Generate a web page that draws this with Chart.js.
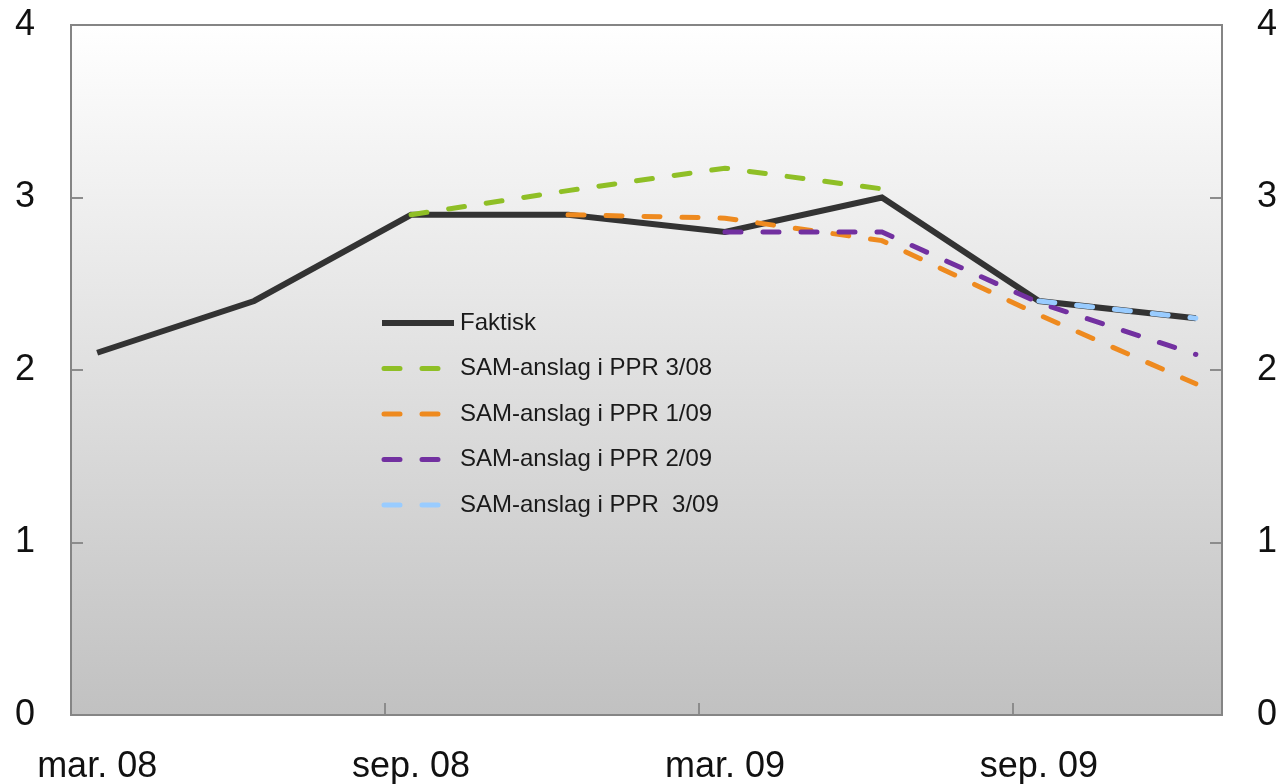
<!DOCTYPE html>
<html>
<head>
<meta charset="utf-8">
<script src="https://cdn.jsdelivr.net/npm/chart.js@4.4.0/dist/chart.umd.min.js"></script>
<style>
  body { margin: 0; background: #fff; }
  #wrap { width: 1285px; height: 784px; }
</style>
</head>
<body>
<div id="wrap"><canvas id="myChart"></canvas></div>
<script>
// monthly category axis, values only at quarter ends
const months = ['mar. 08', 'apr. 08', 'mai. 08', 'jun. 08', 'jul. 08', 'aug. 08', 'sep. 08', 'okt. 08', 'nov. 08', 'des. 08',
    'jan. 09', 'feb. 09', 'mar. 09', 'apr. 09', 'mai. 09', 'jun. 09', 'jul. 09', 'aug. 09', 'sep. 09', 'okt. 09', 'nov. 09', 'des. 09'];
const quarters = ['mar. 08', 'jun. 08', 'sep. 08', 'des. 08', 'mar. 09', 'jun. 09', 'sep. 09', 'des. 09'];
const shownLabels = ['mar. 08', 'sep. 08', 'mar. 09', 'sep. 09'];
const yTicks = [0, 1, 2, 3, 4];

const faktisk = [2.1, 2.4, 2.9, 2.9, 2.8, 3.0, 2.4, 2.3];
const ppr308 = [null, null, 2.9, 3.04, 3.17, 3.05, null, null];
const ppr109 = [null, null, null, 2.9, 2.88, 2.75, 2.32, 1.92];
const ppr209 = [null, null, null, null, 2.8, 2.8, 2.39, 2.09];
const ppr309 = [null, null, null, null, null, null, 2.4, 2.3];

function toPoints(vals) {
    return quarters.map((q, i) => ({ x: q, y: vals[i] })).filter(p => p.y !== null);
}

const FONT = 'Liberation Sans, Arial, sans-serif';
const dash = [16, 22];

const plotBg = {
    id: 'plotBg',
    beforeDraw(chart) {
        const a = chart.chartArea, c = chart.ctx;
        const g = c.createLinearGradient(0, a.top, 0, a.bottom);
        g.addColorStop(0, '#ffffff');
        g.addColorStop(1, '#c1c1c1');
        c.save();
        c.fillStyle = g;
        c.fillRect(a.left, a.top, a.width, a.height);
        c.restore();
    },
    beforeDatasetsDraw(chart) {
        const a = chart.chartArea, c = chart.ctx;
        c.save();
        c.strokeStyle = '#858585';
        c.lineWidth = 2;
        c.strokeRect(a.left, a.top, a.width, a.height);
        c.restore();
    }
};

const boxLegend = {
    id: 'boxLegend',
    afterDatasetsDraw(chart) {
        const a = chart.chartArea, c = chart.ctx;
        const x0 = a.left + 311, y0 = a.top + 298, gap = 45.5;
        c.save();
        c.font = '24px ' + FONT;
        c.textBaseline = 'middle';
        chart.data.datasets.forEach((ds, i) => {
            const y = y0 + i * gap;
            c.beginPath();
            c.strokeStyle = ds.borderColor;
            c.lineWidth = ds.borderWidth;
            if (ds.borderDash) {
                c.lineCap = 'round';
                c.setLineDash(ds.borderDash);
                c.moveTo(x0 + 2, y);
                c.lineTo(x0 + 68, y);
            } else {
                c.lineCap = 'butt';
                c.setLineDash([]);
                c.moveTo(x0, y);
                c.lineTo(x0 + 72, y);
            }
            c.stroke();
            c.setLineDash([]);
            c.fillStyle = '#1a1a1a';
            c.fillText(ds.label, x0 + 78, y);
        });
        c.restore();
    }
};

function noPad(s) {
    s.paddingTop = 0;
    s.paddingBottom = 0;
    s.paddingLeft = 0;
    s.paddingRight = 0;
}

const yAxis = (pos) => ({
    type: 'linear',
    position: pos,
    min: 0,
    max: 4,
    afterBuildTicks: s => { s.ticks = yTicks.map(v => ({ value: v })); },
    afterFit: s => { s.width = pos === 'left' ? 71 : 63; noPad(s); },
    border: { display: false },
    grid: { drawOnChartArea: false, tickLength: -12, tickColor: '#8c8c8c', lineWidth: 2 },
    ticks: { padding: pos === 'left' ? 48 : 47, color: '#111', font: { family: FONT, size: 36 } }
});

var myChart = new Chart(document.getElementById('myChart'), {
    type: 'line',
    data: {
        datasets: [
            { label: 'Faktisk', data: toPoints(faktisk), borderColor: '#333333', borderWidth: 6, order: 5 },
            { label: 'SAM-anslag i PPR 3/08', data: toPoints(ppr308), borderColor: '#8fbf26', borderWidth: 5, borderDash: dash, borderCapStyle: 'round', order: 4 },
            { label: 'SAM-anslag i PPR 1/09', data: toPoints(ppr109), borderColor: '#ee8a1f', borderWidth: 5, borderDash: dash, borderCapStyle: 'round', order: 3 },
            { label: 'SAM-anslag i PPR 2/09', data: toPoints(ppr209), borderColor: '#7230a0', borderWidth: 5, borderDash: dash, borderCapStyle: 'round', order: 2 },
            { label: 'SAM-anslag i PPR  3/09', data: toPoints(ppr309), borderColor: '#99ccff', borderWidth: 5, borderDash: dash, borderCapStyle: 'round', order: 1 }
        ]
    },
    options: {
        responsive: true,
        maintainAspectRatio: false,
        animation: false,
        layout: { padding: { top: 25, left: 0, right: 0, bottom: 0 } },
        elements: { point: { radius: 0 }, line: { tension: 0 } },
        plugins: { legend: { display: false }, tooltip: { enabled: false } },
        scales: {
            x: {
                type: 'category',
                labels: months,
                offset: true,
                afterFit: s => { s.height = 69; noPad(s); },
                border: { display: false },
                grid: {
                    offset: true,
                    drawOnChartArea: false,
                    tickLength: -12,
                    lineWidth: 2,
                    tickColor: ctx => (ctx.index > 0 && ctx.index < months.length && shownLabels.includes(months[ctx.index])) ? '#8c8c8c' : 'rgba(0,0,0,0)'
                },
                ticks: {
                    autoSkip: false,
                    maxRotation: 0,
                    padding: 42,
                    color: '#111',
                    font: { family: FONT, size: 36 },
                    callback: (v, i) => shownLabels.includes(months[i]) ? months[i] : ''
                }
            },
            y: yAxis('left'),
            y2: yAxis('right')
        }
    },
    plugins: [plotBg, boxLegend]
});
</script>
</body>
</html>
